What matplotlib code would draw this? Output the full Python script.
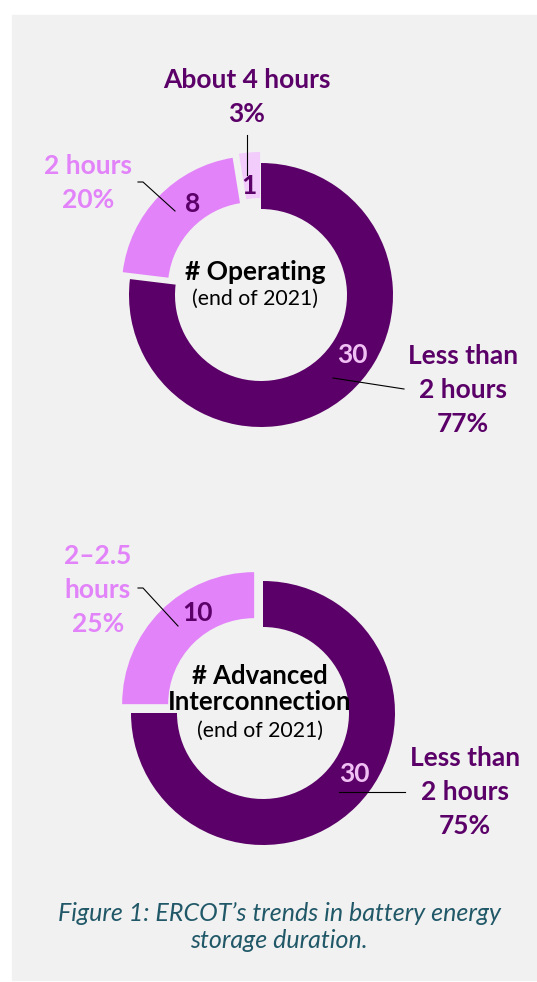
import matplotlib.pyplot as plt
from matplotlib.patches import Rectangle

# data
top_counts = [30, 8, 1]
top_labels = ['Less than\n2 hours\n77%', '2 hours\n20%', 'About 4 hours\n3%']
bottom_counts = [30, 10]
bottom_labels = ['Less than\n2 hours\n75%', '2\u20132.5\nhours\n25%']

DARK = '#5b0068'
LIGHT = '#e283f9'
PALE = '#f2ccfb'
W, H = 537, 982

plt.rcParams['font.family'] = ['Lato', 'DejaVu Sans']

fig = plt.figure(figsize=(W / 100, H / 100), dpi=100)
ax = fig.add_axes([0, 0, 1, 1])


def Y(y):
    # image rows -> data y (y up)
    return H - y


ax.add_patch(Rectangle((12, Y(980)), W - 12, 965, color='#f1f1f1', zorder=0))

R, WID = 132, 46

# top donut (explode is in data units = pixels here)
ax.pie(top_counts, radius=R, center=(261, Y(295)), startangle=90, counterclock=False,
       colors=[DARK, LIGHT, PALE], explode=[0, 10, 11],
       wedgeprops=dict(width=WID, linewidth=0), frame=True)
# bottom donut
ax.pie(bottom_counts, radius=R, center=(263, Y(713)), startangle=90, counterclock=False,
       colors=[DARK, LIGHT], explode=[0, 12.5],
       wedgeprops=dict(width=WID, linewidth=0), frame=True)

ax.set_xlim(0, W)
ax.set_ylim(0, H)
ax.set_aspect('auto')
ax.axis('off')

bold = dict(fontsize=19, fontweight='bold', ha='center', va='center', linespacing=1.5)

# top chart labels
ax.text(247, Y(97), top_labels[2], color=DARK, **bold)
ax.text(88, Y(183), top_labels[1], color=LIGHT, **bold)
ax.text(463, Y(390), top_labels[0], color=DARK, **bold)
ax.text(352, Y(355), str(top_counts[0]), color='#f0c0f5', **bold)
ax.text(193, Y(204), str(top_counts[1]), color=DARK, **bold)
ax.text(249, Y(186), str(top_counts[2]), color=DARK, **bold)
ax.text(255, Y(272), '# Operating', color='black', **bold)
ax.text(255, Y(299), '(end of 2021)', color='black', fontsize=15.3, ha='center', va='center')

# bottom chart labels
ax.text(98, Y(590), bottom_labels[1], color=LIGHT, **bold)
ax.text(465, Y(792), bottom_labels[0], color=DARK, **bold)
ax.text(354, Y(774), str(bottom_counts[0]), color='#f0c0f5', **bold)
ax.text(198, Y(613), str(bottom_counts[1]), color=DARK, **bold)
ax.text(260, Y(689), '# Advanced\nInterconnection', color='black', linespacing=1.1,
        fontsize=18.5, fontweight='bold', ha='center', va='center')
ax.text(260, Y(731), '(end of 2021)', color='black', fontsize=15.3, ha='center', va='center')

# leader lines
lk = dict(color='black', lw=0.8, zorder=5)
ax.plot([247, 247], [Y(135), Y(175)], **lk)
ax.plot([138, 143, 175], [Y(182), Y(182), Y(211)], **lk)
ax.plot([404, 333], [Y(389), Y(378)], **lk)
ax.plot([138, 143, 178], [Y(588), Y(588), Y(626)], **lk)
ax.plot([405, 339], [Y(792), Y(792)], **lk)

ax.text(279, Y(927), 'Figure 1: ERCOT\u2019s trends in battery energy\nstorage duration.',
        color='#215868', fontsize=18, fontstyle='italic', ha='center', va='center',
        linespacing=1.2)

fig.savefig('out.png', dpi=100)
